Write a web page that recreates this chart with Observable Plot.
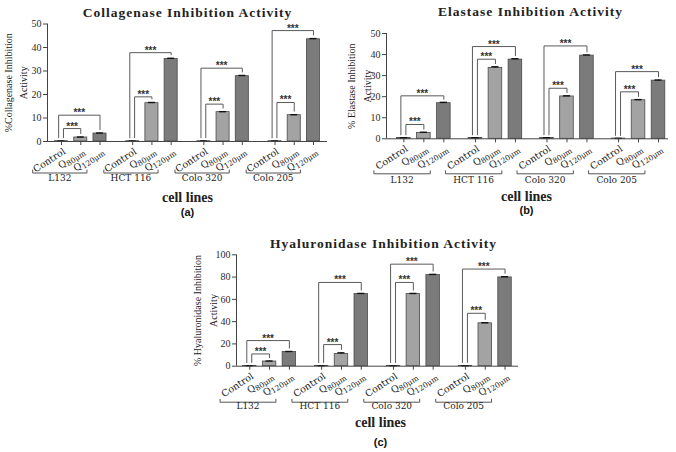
<!DOCTYPE html>
<html><head><meta charset="utf-8">
<script src="https://cdn.jsdelivr.net/npm/d3@7"></script>
<script src="https://cdn.jsdelivr.net/npm/@observablehq/plot@0.6"></script>
<style>
body{margin:0;background:#fff;}
#root{position:relative;width:676px;height:452px;overflow:hidden;background:#fff;}
#root svg{position:absolute;background:transparent;}
</style></head><body><div id="root"></div>
<script>
// ---------- data ----------
const cellLines = ["L132", "HCT 116", "Colo 320", "Colo 205"];
const treatments = ["Control", "Q80μm", "Q120μm"];

const collagenaseControl = [0.1, 0.1, 0.1, 0.1];
const collagenaseQ80 = [1.7, 16.3, 12.5, 11.2];
const collagenaseQ120 = [3.4, 35.1, 27.8, 43.5];
const collagenaseErrQ80 = [0.2, 0.3, 0.2, 0.2];
const collagenaseErrQ120 = [0.2, 0.3, 0.3, 0.3];
const collagenaseSigQ80 = [5.5, 19.0, 15.9, 16.6];
const collagenaseSigQ120 = [11.2, 37.8, 31.2, 47.2];

const elastaseControl = [0.4, 0.4, 0.4, 0.1];
const elastaseQ80 = [2.8, 33.6, 20.1, 18.3];
const elastaseQ120 = [16.9, 37.6, 39.5, 27.6];
const elastaseErrQ80 = [0.3, 0.6, 0.3, 0.3];
const elastaseErrQ120 = [0.4, 0.4, 0.3, 0.3];
const elastaseSigQ80 = [6.8, 37.8, 24.0, 22.3];
const elastaseSigQ120 = [20.4, 43.8, 44.1, 31.9];

const hyaluronidaseControl = [0.3, 0.3, 0.3, 0.3];
const hyaluronidaseQ80 = [4.2, 11.0, 64.8, 38.5];
const hyaluronidaseQ120 = [12.8, 64.8, 81.8, 79.7];
const hyaluronidaseErrQ80 = [0.4, 1.0, 0.5, 0.5];
const hyaluronidaseErrQ120 = [0.4, 0.5, 0.6, 0.6];
const hyaluronidaseSigQ80 = [11.0, 19.4, 75.2, 47.5];
const hyaluronidaseSigQ120 = [23.0, 75.2, 91.6, 87.2];

const controlErr = 0.1;

// ---------- helpers ----------
const SERIF = "'Liberation Serif', 'DejaVu Serif', serif";
const WIDE = "'DejaVu Serif', 'Liberation Serif', serif";
const SANS = "'Liberation Sans', Arial, sans-serif";
const barColors = ["#555555", "#a3a3a3", "#7b7b7b"];

function buildRows(control, q80, q120, e80, e120, gap) {
  const out = [];
  cellLines.forEach((cl, g) => {
    const vals = [control[g], q80[g], q120[g]];
    const errs = [controlErr, e80[g], e120[g]];
    vals.forEach((v, t) => out.push({cell: cl, treatment: treatments[t], value: v, err: errs[t], pos: g * gap + t}));
  });
  return out;
}

function panel(cfg) {
  const {left, top, width, height, margin, ymax, yTicks, gap, xDomain,
         control, q80, q120, e80, e120, sig80, sig120, title, yLabel1, yLabel2, tag, t} = cfg;
  const rows = buildRows(control, q80, q120, e80, e120, gap);
  const frameH = height - margin.top - margin.bottom;
  const perPx = ymax / frameH;

  const sigLines = [], stars = [];
  cellLines.forEach((cl, g) => {
    const c = rows[g * 3];
    [[rows[g * 3 + 1], sig80[g], 0.1], [rows[g * 3 + 2], sig120[g], -0.15]].forEach(([r, h, off], k) => {
      const id = cl + "-" + k, xl = c.pos + off;
      sigLines.push({id, x: xl, y: c.value + 0.03 * ymax},
                    {id, x: xl, y: h}, {id, x: r.pos, y: h},
                    {id, x: r.pos, y: r.value + r.err + 0.03 * ymax});
      stars.push({x: (xl + r.pos) / 2, y: h});
    });
  });

  const grp = [], grpLab = [];
  cellLines.forEach((cl, g) => {
    const x1 = g * gap - 1.5, x2 = g * gap + 2 - 0.68, up = 3 * perPx;
    grp.push({id: cl, x: x1, y: up}, {id: cl, x: x1, y: 0}, {id: cl, x: x2, y: 0}, {id: cl, x: x2, y: up});
    grpLab.push({x: (x1 + x2) / 2, label: cl});
  });

  const svg = Plot.plot({
    width, height,
    marginLeft: margin.left, marginRight: margin.right, marginTop: margin.top, marginBottom: margin.bottom,
    x: {type: "linear", domain: xDomain, axis: null},
    y: {domain: [0, ymax], axis: null},
    color: {domain: treatments, range: barColors},
    style: {fontFamily: SERIF, fontSize: "10px", background: "transparent", color: "#2a2a2a", overflow: "visible"},
    marks: [
      Plot.rectY(rows, {x1: d => d.pos - 0.34, x2: d => d.pos + 0.34, y: "value", fill: "treatment", stroke: "#4a4a4a", strokeWidth: 0.8}),
      Plot.ruleX(rows, {x: "pos", y1: "value", y2: d => d.value + d.err, stroke: "#111"}),
      Plot.ruleY(rows, {x1: d => d.pos - 0.18, x2: d => d.pos + 0.18, y: d => d.value + d.err, stroke: "#111", strokeWidth: 1.4}),
      Plot.line(sigLines, {x: "x", y: "y", z: "id", stroke: "#5a5a5a", strokeWidth: 1, curve: "linear"}),
      Plot.text(stars, {x: "x", y: "y", text: () => "***", fontFamily: SANS, fontSize: 10, fontWeight: "bold", fill: "#333", lineAnchor: "bottom", dy: 1}),
      Plot.ruleY([0], {stroke: "#444", strokeWidth: 1}),
      Plot.ruleX([xDomain[0]], {y1: 0, y2: ymax, stroke: "#444", strokeWidth: 1}),
      Plot.axisY({ticks: yTicks, tickSize: 4, tickPadding: 2, label: null, fontSize: 10, stroke: "#444"}),
      Plot.axisX({ticks: rows.map(d => d.pos), tickSize: 4, tickFormat: () => "", label: null, stroke: "#444"}),
      Plot.text(rows, {x: "pos", text: "treatment", frameAnchor: "bottom", rotate: -33, textAnchor: "end", lineAnchor: "middle", dx: 3, dy: 9, fontFamily: WIDE, fontSize: 9.5, fill: "#222"}),
      Plot.line(grp, {x: "x", y: "y", z: "id", stroke: "#555", strokeWidth: 1, dy: t.grp}),
      Plot.text(grpLab, {x: "x", text: "label", frameAnchor: "bottom", dy: t.grpLab, fontFamily: WIDE, fontSize: 9, fill: "#222"}),
      Plot.text([title], {frameAnchor: "top", textAnchor: "middle", dx: t.titleDx, dy: t.titleDy, fontSize: 13.5, fontWeight: "bold", fill: "#222"}),
      Plot.text([yLabel1], {frameAnchor: "left", textAnchor: "middle", rotate: -90, dx: t.yl1, fontSize: 10, fill: "#222"}),
      Plot.text([yLabel2], {frameAnchor: "left", textAnchor: "middle", rotate: -90, dx: t.yl2, fontSize: 10, fill: "#222"}),
      Plot.text(["cell lines"], {frameAnchor: "bottom", textAnchor: "middle", dx: t.cellDx, dy: t.cellDy, fontSize: 14, fontWeight: "bold", fill: "#222"}),
      Plot.text([tag], {frameAnchor: "bottom", textAnchor: "middle", dx: t.cellDx, dy: t.tagDy, fontSize: 11, fontWeight: "bold", fontFamily: SANS, fill: "#111"})
    ]
  });
  svg.style.left = left + "px";
  svg.style.top = top + "px";
  // subscript-style concentration labels and letter-spaced titles
  svg.querySelectorAll("text").forEach(el => {
    const m = /^Q(\d+μm)$/.exec(el.textContent);
    if (m) {
      el.textContent = "Q";
      const ts = document.createElementNS("http://www.w3.org/2000/svg", "tspan");
      ts.setAttribute("font-size", "7.5");
      ts.setAttribute("dy", "2");
      ts.textContent = m[1];
      el.appendChild(ts);
    } else if (el.textContent === title) {
      el.setAttribute("letter-spacing", "1");
    }
  });
  document.getElementById("root").appendChild(svg);
}

panel({
  left: 0, top: 0, width: 336, height: 226,
  margin: {left: 47, right: 9, top: 23.5, bottom: 85},
  ymax: 50, yTicks: [0, 10, 20, 30, 40, 50], gap: 3.7, xDomain: [-0.73, 13.83],
  control: collagenaseControl, q80: collagenaseQ80, q120: collagenaseQ120,
  e80: collagenaseErrQ80, e120: collagenaseErrQ120, sig80: collagenaseSigQ80, sig120: collagenaseSigQ120,
  title: "Collagenase Inhibition Activity", yLabel1: "%Collagenase Inhibition", yLabel2: "Activity", tag: "(a)",
  t: {grp: 31.5, grpLab: 39, titleDx: 0, titleDy: -16.5, yl1: -39, yl2: -24, cellDx: 0, cellDy: 60.7, tagDy: 74}
});

panel({
  left: 336, top: 0, width: 340, height: 226,
  margin: {left: 50, right: 8, top: 33, bottom: 87.7},
  ymax: 50, yTicks: [0, 10, 20, 30, 40, 50], gap: 3.58, xDomain: [-0.87, 13.24],
  control: elastaseControl, q80: elastaseQ80, q120: elastaseQ120,
  e80: elastaseErrQ80, e120: elastaseErrQ120, sig80: elastaseSigQ80, sig120: elastaseSigQ120,
  title: "Elastase Inhibition Activity", yLabel1: "% Elastase Inhibition", yLabel2: "Activity", tag: "(b)",
  t: {grp: 35, grpLab: 44, titleDx: 3, titleDy: -27, yl1: -35, yl2: -19, cellDx: -1, cellDy: 61.7, tagDy: 74.7}
});

panel({
  left: 150, top: 225, width: 400, height: 227,
  margin: {left: 86, right: 32, top: 29.3, bottom: 86.3},
  ymax: 100, yTicks: [0, 20, 40, 60, 80, 100], gap: 3.63, xDomain: [-0.67, 13.57],
  control: hyaluronidaseControl, q80: hyaluronidaseQ80, q120: hyaluronidaseQ120,
  e80: hyaluronidaseErrQ80, e120: hyaluronidaseErrQ120, sig80: hyaluronidaseSigQ80, sig120: hyaluronidaseSigQ120,
  title: "Hyaluronidase Inhibition Activity", yLabel1: "% Hyaluronidase Inhibition", yLabel2: "Activity", tag: "(c)",
  t: {grp: 36, grpLab: 43, titleDx: 6, titleDy: -16.3, yl1: -39, yl2: -23, cellDx: 3, cellDy: 61, tagDy: 79.3}
});
</script></body></html>
